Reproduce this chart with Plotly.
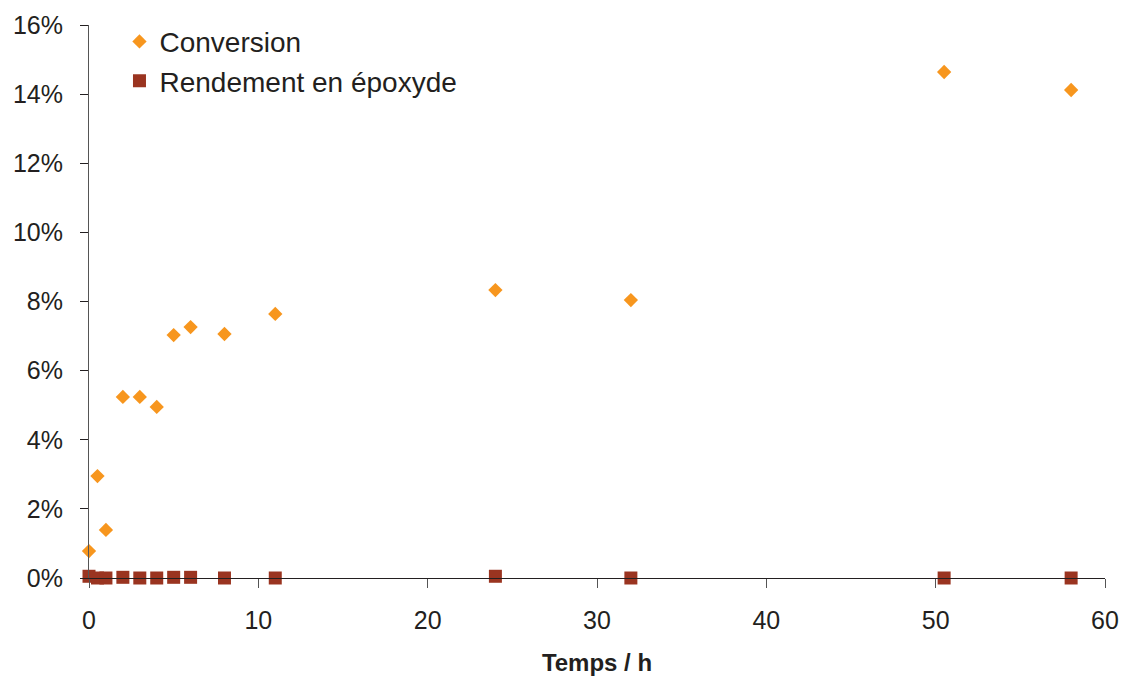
import plotly.graph_objects as go

temps = [0, 0.5, 1, 2, 3, 4, 5, 6, 8, 11, 24, 32, 50.5, 58]
conversion = [0.78, 2.95, 1.39, 5.24, 5.24, 4.95, 7.03, 7.26, 7.06, 7.64, 8.33, 8.04, 14.64, 14.12]
rendement = [0.05, 0.0, 0.0, 0.02, 0.0, 0.0, 0.02, 0.02, 0.0, 0.0, 0.05, 0.0, 0.0, 0.0]
y_ticks = [0, 2, 4, 6, 8, 10, 12, 14, 16]
y_labels = [f"{v}%" for v in y_ticks]
x_ticks = [0, 10, 20, 30, 40, 50, 60]

orange = "#F7961E"
brown = "#9A3420"

fig = go.Figure()
fig.add_trace(go.Scatter(x=temps, y=conversion, mode="markers", name="Conversion",
                         marker=dict(symbol="diamond", size=11, color=orange),
                         cliponaxis=False))
fig.add_trace(go.Scatter(x=temps, y=rendement, mode="markers", name="Rendement en époxyde",
                         marker=dict(symbol="square", size=13, color=brown),
                         cliponaxis=False))

font = "Liberation Sans, Arial, sans-serif"
fig.update_layout(
    width=1126, height=676,
    margin=dict(l=89, r=21, t=25, b=98, autoexpand=False),
    paper_bgcolor="white", plot_bgcolor="white",
    font=dict(family=font, size=25, color="#231F20"),
    showlegend=True,
    legend=dict(x=0.03, y=1.015, xanchor="left", yanchor="top",
                font=dict(size=28, color="#231F20"), bgcolor="rgba(0,0,0,0)",
                itemwidth=30, tracegroupgap=0),
    xaxis=dict(range=[0, 60], tickvals=x_ticks,
               showline=True, linecolor="#231F20", linewidth=1.2,
               ticks="outside", ticklen=9, tickcolor="#555555", tickwidth=1,
               showgrid=False, zeroline=False, automargin=False,
               tickfont=dict(size=25), ticklabelstandoff=11,
               title=dict(text="<b>Temps / h</b>", font=dict(size=24), standoff=29)),
    yaxis=dict(range=[0, 16], tickvals=y_ticks, ticktext=y_labels,
               showline=True, linecolor="#555555", linewidth=1,
               ticks="outside", ticklen=8, tickcolor="#231F20", tickwidth=1,
               showgrid=False, zeroline=False, automargin=False,
               tickfont=dict(size=25), ticklabelstandoff=12),
)

fig.write_html("out.html", config={"displayModeBar": False},
               post_script="document.body.style.margin='0';document.body.style.overflow='hidden';")
